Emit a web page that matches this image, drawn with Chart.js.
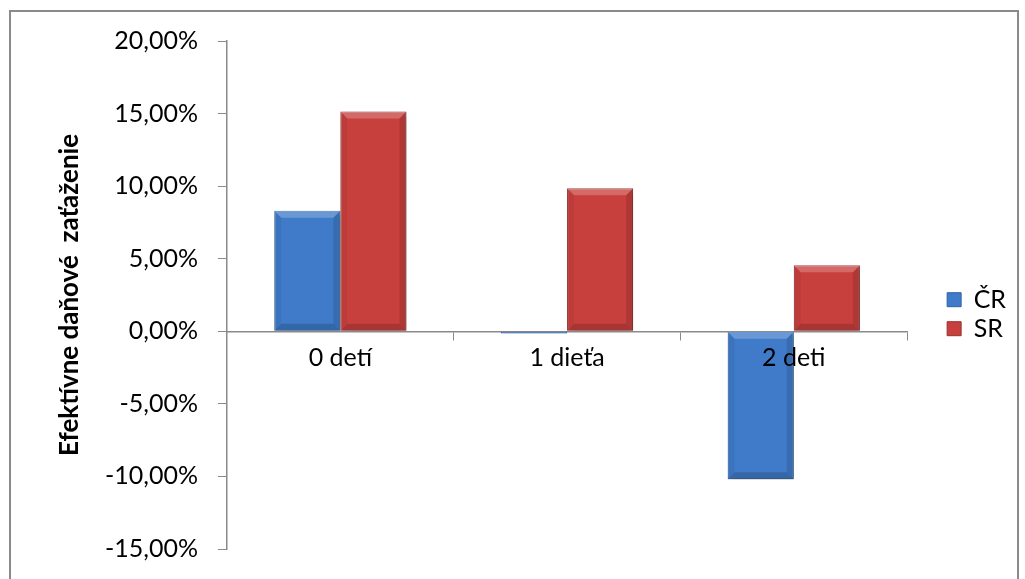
<!DOCTYPE html>
<html lang="sk">
<head>
    <meta charset="utf-8">
    <title>Efektívne daňové zaťaženie</title>
    <style>
      * { margin: 0; padding: 0; }
      body { width: 1025px; height: 579px; overflow: hidden; background: #fff; position: relative; }
      .frame {
        position: absolute; left: 9px; top: 10px; width: 1010px; height: 620px;
        border: 2px solid #8a8a8a; box-sizing: border-box;
      }
      .chartBox { position: absolute; left: 0; top: 0; width: 1025px; height: 579px; }
    </style>
</head>
<body>
    <div class="frame"></div>
    <div class="chartBox"><canvas id="taxChart" width="1025" height="579"></canvas></div>
    <script src="https://cdn.jsdelivr.net/npm/chart.js/dist/chart.umd.min.js"></script>
    <script>
        // categories and values (in %)
        const categories = ['0 detí', '1 dieťa', '2 deti'];
        const valuesCR = [8.3, -0.15, -10.2];
        const valuesSR = [15.15, 9.85, 4.55];
        const seriesNames = ['ČR', 'SR'];
        const yTicks = [-15, -10, -5, 0, 5, 10, 15, 20];

        const font = 'Lato, "Open Sans", sans-serif';
        const fmt = v => v.toFixed(2).replace('.', ',') + '%';

        // soft shadow under the bars + bevel look drawn over each bar element
        const bevelBars = {
            id: 'bevelBars',
            beforeDatasetsDraw(chart) {
                const ctx = chart.ctx;
                ctx.save();
                ctx.shadowColor = 'rgba(0,0,0,0.35)';
                ctx.shadowBlur = 6;
                ctx.shadowOffsetX = 2;
                ctx.shadowOffsetY = 3;
            },
            afterDatasetsDraw(chart) {
                const ctx = chart.ctx;
                ctx.restore();
                chart.data.datasets.forEach((ds, i) => {
                    chart.getDatasetMeta(i).data.forEach(bar => {
                        const l = bar.x - bar.width / 2, r = bar.x + bar.width / 2;
                        const t = Math.min(bar.y, bar.base), b = Math.max(bar.y, bar.base);
                        const h = b - t;
                        if (h < 4) return;
                        const e = Math.min(7, h / 2);
                        const poly = (pts, fill) => {
                            ctx.beginPath();
                            ctx.moveTo(pts[0][0], pts[0][1]);
                            pts.slice(1).forEach(p => ctx.lineTo(p[0], p[1]));
                            ctx.closePath();
                            ctx.fillStyle = fill;
                            ctx.fill();
                        };
                        ctx.save();
                        poly([[l, t], [r, t], [r - e, t + e], [l + e, t + e]], 'rgba(255,255,255,0.22)');
                        poly([[l, b], [r, b], [r - e, b - e], [l + e, b - e]], 'rgba(0,0,0,0.16)');
                        poly([[l, t], [l + e, t + e], [l + e, b - e], [l, b]], 'rgba(0,0,0,0.05)');
                        poly([[r, t], [r - e, t + e], [r - e, b - e], [r, b]], 'rgba(0,0,0,0.12)');
                        ctx.restore();
                    });
                });
            }
        };

        new Chart(document.getElementById('taxChart'), {
            type: 'bar',
            data: {
                labels: categories,
                datasets: [{
                    label: seriesNames[0],
                    data: valuesCR,
                    backgroundColor: '#3f7bc9',
                    borderColor: '#2f62a6',
                    borderWidth: 1
                }, {
                    label: seriesNames[1],
                    data: valuesSR,
                    backgroundColor: '#c8403d',
                    borderColor: '#9c2f2d',
                    borderWidth: 1
                }]
            },
            plugins: [bevelBars],
            options: {
                responsive: false,
                animation: false,
                categoryPercentage: 0.583,
                barPercentage: 1.0,
                layout: { padding: { left: 50, top: 41, bottom: 30, right: 9 } },
                scales: {
                    x: {
                        position: { y: 0 },
                        afterFit: s => { s.height = 0; },
                        grid: { drawOnChartArea: false, color: '#8a8a8a', tickLength: 8 },
                        border: { color: '#8a8a8a', width: 1.5 },
                        // labels drawn above the bars, like "2 deti"
                        ticks: { z: 1, color: '#000', font: { family: font, size: 25 }, padding: 4 }
                    },
                    y: {
                        min: Math.min(...yTicks),
                        max: Math.max(...yTicks),
                        afterFit: s => { s.width = 177; s.paddingTop = 0; s.paddingBottom = 0; },
                        afterBuildTicks: s => { s.ticks = yTicks.map(v => ({ value: v })); },
                        grid: { drawOnChartArea: false, color: '#8a8a8a', tickLength: 9 },
                        border: { color: '#8a8a8a', width: 1.5 },
                        ticks: { color: '#000', font: { family: font, size: 25 }, padding: 20, callback: v => fmt(v) },
                        title: {
                            display: true,
                            text: 'Efektívne daňové  zaťaženie',
                            color: '#000',
                            font: { family: font, size: 26, weight: 'bold' }
                        }
                    },
                    spacer: {
                        type: 'linear',
                        position: 'right',
                        afterFit: s => { s.width = 36; },
                        grid: { display: false },
                        border: { display: false },
                        ticks: { display: false }
                    }
                },
                plugins: {
                    legend: {
                        position: 'right',
                        align: 'center',
                        title: { display: true, text: '', padding: 12 },
                        labels: {
                            color: '#000',
                            font: { family: font, size: 25 },
                            boxWidth: 14,
                            boxHeight: 14,
                            padding: 4
                        }
                    },
                    tooltip: { enabled: false }
                }
            }
        });
    </script>
</body>
</html>
